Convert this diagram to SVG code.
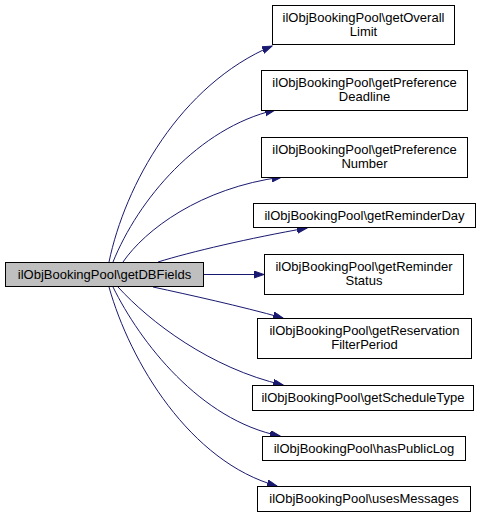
<svg xmlns="http://www.w3.org/2000/svg" width="483" height="518" viewBox="0 0 483 518">
<style>
.n rect{fill:#fff;stroke:#000;stroke-width:1}
.n.m rect{fill:#bfbfbf}
.n text{font-family:"Liberation Sans",Arial,sans-serif;font-size:13px;text-anchor:middle;fill:#000}
.e path{fill:none;stroke:#191970;stroke-width:1;marker-end:url(#a)}
</style>
<defs>
<marker id="a" markerUnits="userSpaceOnUse" markerWidth="11" markerHeight="8" refX="10" refY="3.5" orient="auto">
<path d="M0,0 L10,3.5 L0,7 z" fill="#191970" stroke="#191970" stroke-width="1"/>
</marker>
</defs>
<rect width="483" height="518" fill="#fff"/>
<g id="edges" class="e">
<path d="M109,262 C125,185 180,85 272,46"/>
<path d="M113,262 C138,200 198,128 275,110"/>
<path d="M123,262 C145,230 200,188 282,177"/>
<path d="M158,262 C190,252 250,238 307,228"/>
<path d="M203,274.5 L264,274.5"/>
<path d="M153,287 C190,295 240,306 283,318"/>
<path d="M118,287 C150,322 210,368 283,385"/>
<path d="M113,287 C140,342 200,420 280,436"/>
<path d="M109,287 C130,362 190,462 277,486"/>
</g>
<g id="main" class="n m"><rect x="5.5" y="262.5" width="198" height="24"/><text x="104.5" y="278.5">ilObjBookingPool\getDBFields</text></g>
<g id="n1" class="n"><rect x="272.5" y="5.5" width="182" height="39"/><text x="363.5" y="21.5">ilObjBookingPool\getOverall</text><text x="363.5" y="35.5">Limit</text></g>
<g id="n2" class="n"><rect x="261.5" y="70.5" width="206" height="40"/><text x="364.5" y="86.5">ilObjBookingPool\getPreference</text><text x="364.5" y="100.5">Deadline</text></g>
<g id="n3" class="n"><rect x="261.5" y="137.5" width="206" height="40"/><text x="364.5" y="153.5">ilObjBookingPool\getPreference</text><text x="364.5" y="167.5">Number</text></g>
<g id="n4" class="n"><rect x="253.5" y="203.5" width="222" height="24"/><text x="364.5" y="219.5">ilObjBookingPool\getReminderDay</text></g>
<g id="n5" class="n"><rect x="264.5" y="254.5" width="199" height="40"/><text x="364" y="270.5">ilObjBookingPool\getReminder</text><text x="364" y="284.5">Status</text></g>
<g id="n6" class="n"><rect x="257.5" y="318.5" width="214" height="40"/><text x="364.5" y="334.5">ilObjBookingPool\getReservation</text><text x="364.5" y="348.5">FilterPeriod</text></g>
<g id="n7" class="n"><rect x="252.5" y="385.5" width="221" height="25"/><text x="363" y="402">ilObjBookingPool\getScheduleType</text></g>
<g id="n8" class="n"><rect x="262.5" y="436.5" width="203" height="24"/><text x="364" y="452.5">ilObjBookingPool\hasPublicLog</text></g>
<g id="n9" class="n"><rect x="257.5" y="486.5" width="213" height="25"/><text x="364" y="503">ilObjBookingPool\usesMessages</text></g>
</svg>
